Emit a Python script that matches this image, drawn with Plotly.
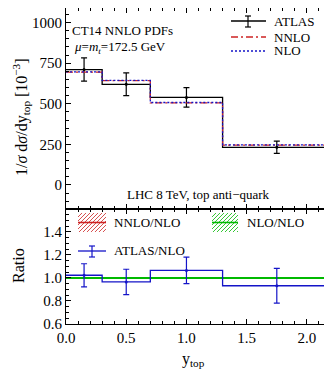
"""
    CT14 top anti-quark rapidity at LHC 8 TeV, with ratio panel
"""

import plotly.graph_objects as go

# bin edges in y_top and bin centres for the data points
edges = [0.0, 0.3, 0.7, 1.3, 2.2]
centers = [0.15, 0.5, 1.0, 1.75]

# 1/sigma dsigma/dy_top [10^-3]
atlas = [711, 620, 539, 232]
atlas_err = [72, 70, 60, 38]
nnlo = [695, 643, 506, 246]
nlo = [697, 644, 508, 247]

# ratio panel
atlas_nlo = [1.023, 0.965, 1.065, 0.932]
atlas_nlo_err = [0.10, 0.11, 0.115, 0.15]
nnlo_nlo = [0.997, 0.998, 0.996, 0.996]
nlo_nlo = [1.0, 1.0, 1.0, 1.0]

FONT = "Liberation Serif"
RED = "rgb(205,35,35)"
BLUE = "rgb(20,20,200)"
GREEN = "rgb(0,185,0)"

# the page puts the figure 8px in from the corner (body margin),
# so the figure is made 8px smaller and every position below is a page pixel
OFF = 8
W, H = 332 - OFF, 376 - OFF
L, R, T, B = 66 - OFF, 331 - OFF, 0, 324 - OFF
SPLIT = 209


def px(x):
    return (x - OFF - L) / (R - L)


def py(y):
    return (B - (y - OFF)) / (B - T)


def step(vals):
    return vals + [vals[-1]]


def hatch(x0, x1, y0, y1, gap=4):
    """ '/' hatch lines inside a pixel box, as an svg path in paper coords """
    h = y1 - y0
    parts = []
    s = x0 - h
    while s < x1:
        ax, ay = s, y1
        bx, by = s + h, y0
        if ax < x0:
            ay = y1 - (x0 - ax)
            ax = x0
        if bx > x1:
            by = y0 + (bx - x1)
            bx = x1
        if bx > ax:
            parts.append("M%.4f,%.4f L%.4f,%.4f" % (px(ax), py(ay), px(bx), py(by)))
        s += gap
    return " ".join(parts)


fig = go.Figure()

# top panel
fig.add_trace(go.Scatter(x=edges, y=step(atlas), line_shape="hv", mode="lines",
                         line=dict(color="black", width=1.3), xaxis="x", yaxis="y"))
fig.add_trace(go.Scatter(x=centers, y=atlas, mode="markers",
                         marker=dict(color="black", size=3),
                         error_y=dict(type="data", array=atlas_err, color="black",
                                      thickness=1.2, width=3),
                         xaxis="x", yaxis="y"))
fig.add_trace(go.Scatter(x=edges, y=step(nnlo), line_shape="hv", mode="lines",
                         line=dict(color=RED, width=1.3, dash="7px,3px,2px,3px"),
                         xaxis="x", yaxis="y"))
fig.add_trace(go.Scatter(x=edges, y=step(nlo), line_shape="hv", mode="lines",
                         line=dict(color=BLUE, width=1.3, dash="2px,2px"),
                         xaxis="x", yaxis="y"))

# ratio panel
fig.add_trace(go.Scatter(x=edges, y=step(nnlo_nlo), line_shape="hv", mode="lines",
                         line=dict(color=RED, width=1.3, dash="2px,2px"),
                         xaxis="x2", yaxis="y2"))
fig.add_trace(go.Scatter(x=edges, y=step(nlo_nlo), line_shape="hv", mode="lines",
                         line=dict(color=GREEN, width=2),
                         xaxis="x2", yaxis="y2"))
fig.add_trace(go.Scatter(x=edges, y=step(atlas_nlo), line_shape="hv", mode="lines",
                         line=dict(color=BLUE, width=1.3), xaxis="x2", yaxis="y2"))
fig.add_trace(go.Scatter(x=centers, y=atlas_nlo, mode="markers",
                         marker=dict(color=BLUE, size=3),
                         error_y=dict(type="data", array=atlas_nlo_err, color=BLUE,
                                      thickness=1.2, width=3),
                         xaxis="x2", yaxis="y2"))

axis_common = dict(showline=True, linecolor="black", linewidth=1, mirror="allticks",
                   ticks="inside", ticklen=5, tickcolor="black", showgrid=False,
                   zeroline=False, automargin=False,
                   tickfont=dict(family=FONT, size=15, color="black"))

split = py(SPLIT)

fig.update_layout(
    width=W, height=H,
    margin=dict(l=L, r=W - R, t=T, b=H - B, autoexpand=False),
    paper_bgcolor="white", plot_bgcolor="white",
    showlegend=False,
    font=dict(family=FONT, color="black"),
    xaxis=dict(axis_common, domain=[0, 1], range=[0, 2.2], dtick=0.5,
               showticklabels=False, anchor="y",
               minor=dict(ticks="inside", dtick=0.1, ticklen=3, tickcolor="black")),
    yaxis=dict(axis_common, domain=[split, 1], range=[-148, 1090], dtick=250,
               anchor="x",
               minor=dict(ticks="inside", dtick=50, ticklen=3, tickcolor="black")),
    xaxis2=dict(axis_common, domain=[0, 1], range=[0, 2.2], dtick=0.5,
                tickformat=".1f", anchor="y2",
                minor=dict(ticks="inside", dtick=0.1, ticklen=3, tickcolor="black")),
    yaxis2=dict(axis_common, domain=[0, split], range=[0.6, 1.598], dtick=0.2,
                tickformat=".1f", anchor="x2",
                minor=dict(ticks="inside", dtick=0.05, ticklen=3, tickcolor="black")),
)

shapes = []
ann = []


def text(x, y, s, size=13, xanchor="left", angle=0):
    ann.append(dict(x=px(x), y=py(y), xref="paper", yref="paper", text=s,
                    showarrow=False, xanchor=xanchor, yanchor="middle",
                    textangle=angle, font=dict(family=FONT, size=size, color="black")))


def seg(x0, y0, x1, y1, color, width=1.3, dash="solid"):
    shapes.append(dict(type="line", xref="paper", yref="paper",
                       x0=px(x0), y0=py(y0), x1=px(x1), y1=py(y1),
                       line=dict(color=color, width=width, dash=dash)))


# top legend
seg(231, 21, 266, 21, "black")
seg(248, 16, 248, 27, "black", 1.2)
seg(245, 16, 251, 16, "black", 1.2)
seg(245, 27, 251, 27, "black", 1.2)
text(272, 21, "ATLAS")
seg(231, 37, 266, 37, RED, dash="7px,3px,2px,3px")
text(272, 37, "NNLO")
seg(231, 51, 266, 51, BLUE, dash="2px,2px")
text(272, 51, "NLO")

text(70, 30, "CT14 NNLO PDFs")
text(72, 47, "<i>μ</i>=<i>m<sub>t</sub></i>=172.5 GeV")
text(198, 194, "LHC 8 TeV, top anti−quark", xanchor="center")

# ratio legend
shapes.append(dict(type="path", xref="paper", yref="paper",
                   path=hatch(78, 106, 213, 232), line=dict(color=RED, width=0.8)))
seg(78, 222.5, 106, 222.5, RED, 1.6)
text(112, 222, "NNLO/NLO")
shapes.append(dict(type="path", xref="paper", yref="paper",
                   path=hatch(212, 238, 213, 232), line=dict(color=GREEN, width=0.8)))
seg(212, 222.5, 238, 222.5, GREEN, 1.6)
text(245, 222, "NLO/NLO")
seg(78, 251, 106, 251, BLUE)
seg(92, 246, 92, 257, BLUE, 1.2)
seg(89, 246, 95, 246, BLUE, 1.2)
seg(89, 257, 95, 257, BLUE, 1.2)
text(112, 250, "ATLAS/NLO")

# axis titles
text(21, 117, "1/<i>σ</i> d<i>σ</i>/dy<sub>top</sub> [10<sup>−3</sup>]", size=16,
     xanchor="center", angle=-90)
text(18, 266, "Ratio", size=16, xanchor="center", angle=-90)
text(193, 359, "y<sub>top</sub>", size=16, xanchor="center")

fig.update_layout(shapes=shapes, annotations=ann)

fig.write_html("out.html")
